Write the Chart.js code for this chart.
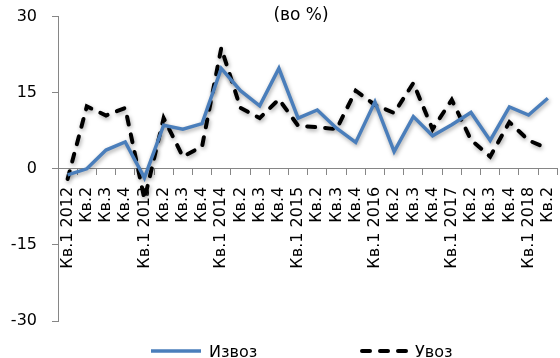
<!DOCTYPE html>
<html>
<head>
<meta charset="utf-8">
<script src="https://cdn.jsdelivr.net/npm/chart.js@4/dist/chart.umd.min.js"></script>
<style>
  html, body { margin: 0; padding: 0; background: #fff; overflow: hidden; }
  #wrap { position: relative; width: 560px; height: 358px; overflow: hidden; font-family: "DejaVu Sans", Verdana, sans-serif; }
  #chart { position: absolute; left: 0; top: -8px; }
  #title { position: absolute; top: 4px; left: 251px; width: 100px; text-align: center; font-size: 17px; color: #000; }
  .leg { position: absolute; top: 341px; font-size: 16px; color: #000; display: flex; align-items: center; height: 20px; }
  .leg svg { margin-right: 7px; }
</style>
</head>
<body>
<div id="wrap">
  <canvas id="chart" width="579" height="366"></canvas>
  <div id="title">(во %)</div>
  <div class="leg" style="left:150px"><svg width="52" height="8"><line x1="1" y1="4" x2="51" y2="4" stroke="#4A7EBB" stroke-width="3.5"/></svg>Извоз</div>
  <div class="leg" style="left:360px"><svg width="48" height="8"><line x1="2" y1="4" x2="46" y2="4" stroke="#000" stroke-width="4" stroke-linecap="round" stroke-dasharray="8 10"/></svg>Увоз</div>
</div>
<script>
// Quarterly labels, Q1 2012 – Q2 2018
const quarters = [
  "Кв.1 2012", "Кв.2", "Кв.3", "Кв.4",
  "Кв.1 2013", "Кв.2", "Кв.3", "Кв.4",
  "Кв.1 2014", "Кв.2", "Кв.3", "Кв.4",
  "Кв.1 2015", "Кв.2", "Кв.3", "Кв.4",
  "Кв.1 2016", "Кв.2", "Кв.3", "Кв.4",
  "Кв.1 2017", "Кв.2", "Кв.3", "Кв.4",
  "Кв.1 2018", "Кв.2"
];

// Year-on-year change, in percent
const exportsPct = [-1.2, 0.0, 3.7, 5.3, -1.8, 8.6, 7.8, 8.9, 19.8, 15.4, 12.4, 19.8, 10.0, 11.6, 8.0, 5.2, 13.2, 3.4, 10.3, 6.5, 8.7, 11.1, 5.6, 12.2, 10.6, 13.9];
const importsPct = [-2.0, 12.3, 10.5, 12.0, -6.0, 10.0, 2.4, 4.4, 23.8, 12.0, 10.0, 13.7, 8.5, 8.2, 7.8, 15.4, 12.6, 11.0, 16.9, 7.8, 13.6, 5.7, 2.4, 9.2, 5.6, 4.0];

const yTicks = [-30, -15, 0, 15, 30];

const FONT = "DejaVu Sans";
const GREY = "#868686";

// soft drop shadow under both lines
const lineShadow = {
  id: "lineShadow",
  beforeDatasetsDraw(chart) {
    const ctx = chart.ctx;
    ctx.save();
    ctx.shadowColor = "rgba(0,0,0,0.35)";
    ctx.shadowBlur = 4;
    ctx.shadowOffsetX = 1;
    ctx.shadowOffsetY = 2;
  },
  afterDatasetsDraw(chart) {
    chart.ctx.restore();
  }
};

new Chart(document.getElementById("chart"), {
  type: "line",
  data: {
    labels: quarters,
    datasets: [
      {
        label: "Извоз",
        data: exportsPct,
        borderColor: "#4A7EBB",
        borderWidth: 3.5,
        pointRadius: 0,
        tension: 0,
        fill: false
      },
      {
        label: "Увоз",
        data: importsPct,
        borderColor: "#000000",
        borderWidth: 4,
        borderDash: [8, 10],
        borderCapStyle: "round",
        pointRadius: 0,
        tension: 0,
        fill: false
      }
    ]
  },
  options: {
    responsive: false,
    animation: false,
    layout: { padding: { left: 0, right: 0, top: 8, bottom: 37 } },
    plugins: {
      legend: { display: false },
      title: { display: false },
      tooltip: { enabled: false }
    },
    scales: {
      x: {
        type: "category",
        position: { y: 0 },
        offset: true,
        border: { display: true, color: GREY, width: 1 },
        grid: {
          display: true,
          offset: true,
          drawOnChartArea: false,
          drawTicks: true,
          tickLength: 6,
          color: GREY
        },
        ticks: {
          autoSkip: false,
          minRotation: 90,
          maxRotation: 90,
          padding: 12,
          color: "#000",
          font: { family: FONT, size: 16 }
        }
      },
      y: {
        min: -30,
        max: 30,
        afterBuildTicks(scale) {
          scale.ticks = yTicks.map(v => ({ value: v }));
        },
        afterFit(scale) {
          scale.width = 58;
        },
        border: { display: true, color: GREY, width: 1 },
        grid: {
          display: true,
          drawOnChartArea: false,
          drawTicks: true,
          tickLength: 6,
          color: GREY
        },
        ticks: {
          padding: 15,
          color: "#000",
          font: { family: FONT, size: 16 }
        }
      }
    }
  },
  plugins: [lineShadow]
});
</script>
</body>
</html>
